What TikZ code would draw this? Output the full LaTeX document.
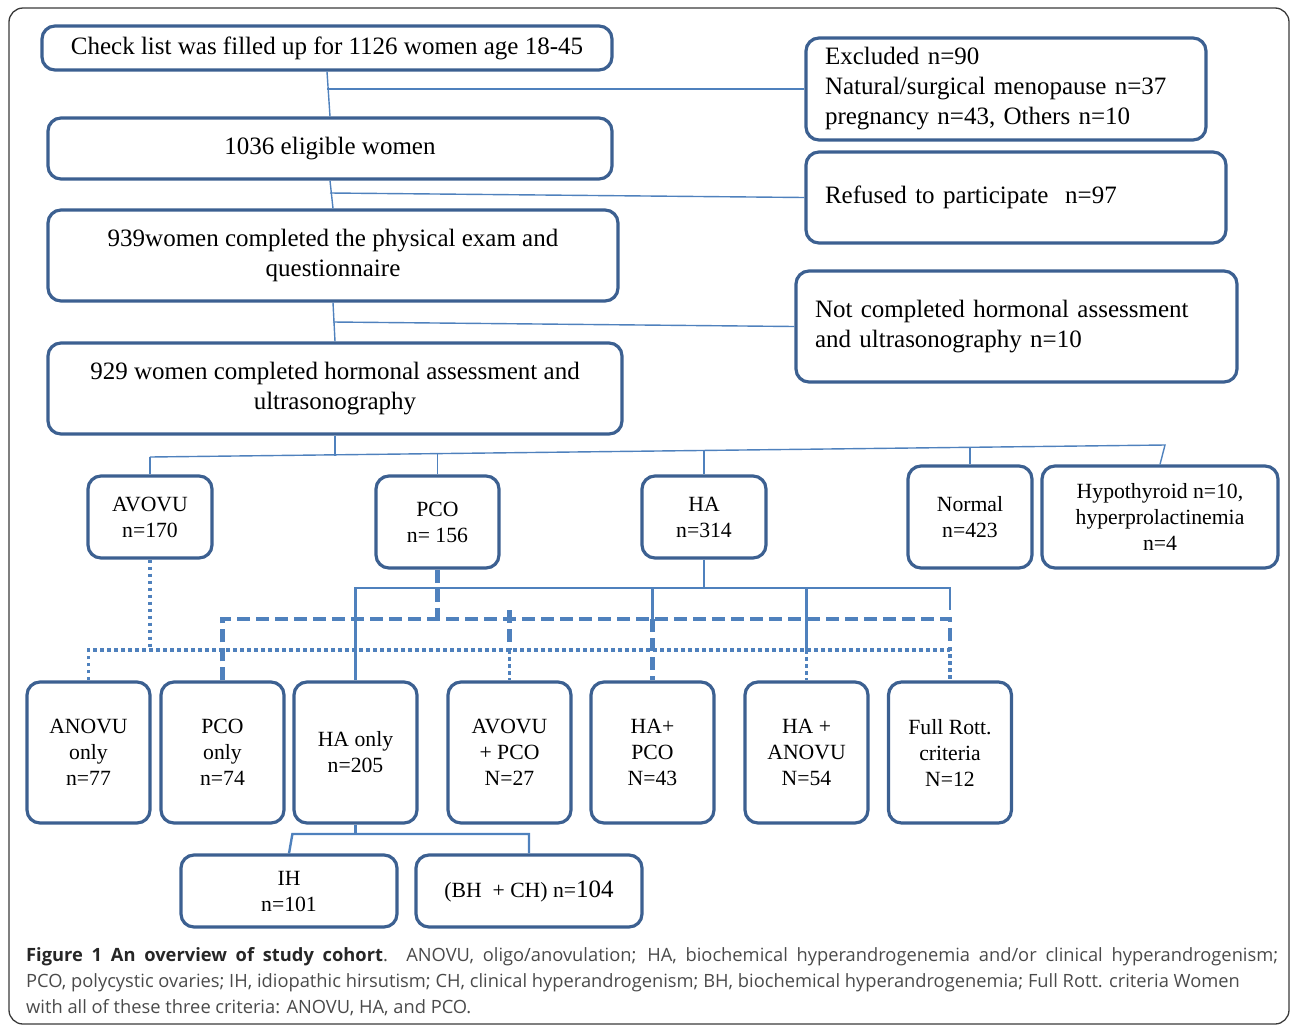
\documentclass[tikz,border=0pt]{standalone}
\usepackage{fontspec}
\setmainfont{Liberation Serif}
\newfontfamily\capfont{Open Sans}
\usetikzlibrary{calc}
\definecolor{boxblue}{HTML}{3C6091}
\definecolor{linkblue}{HTML}{4F81BD}
\definecolor{framegray}{HTML}{3A3A3A}
\definecolor{capgray}{HTML}{4A4A4A}

\begin{document}
\begin{tikzpicture}[
    x=1pt, y=-1pt,
    box/.style={draw=boxblue, line width=3.2pt, rounded corners=13pt, align=center, inner sep=2pt, font=\fontsize{21.7}{26}\selectfont},
    bigbox/.style={box, font=\fontsize{25}{30}\selectfont},
    sidebox/.style={bigbox, align=left, inner xsep=19pt},
    link/.style={draw=linkblue, line width=1.4pt},
    solidlink/.style={draw=linkblue, line width=2.4pt},
    dashlink/.style={draw=linkblue, line width=4.5pt, dash pattern=on 13pt off 6pt},
    dotlink/.style={draw=linkblue, line width=3.5pt, dash pattern=on 3.5pt off 3.5pt}
]
\useasboundingbox (0,0) rectangle (1290,1026);
\draw[framegray, line width=1.3pt, rounded corners=14pt] (9,8) rectangle (1289,1024);

\node[bigbox, minimum width=570pt, minimum height=44pt] (check) at (327,48) {Check list was filled up for 1126 women age 18-45};
\node[bigbox, minimum width=564pt, minimum height=61pt] (elig) at (330,148.5) {1036 eligible women};
\node[bigbox, minimum width=570pt, minimum height=91pt] (exam) at (333,255.5) {939women completed the physical exam and\\ questionnaire};
\node[bigbox, minimum width=574pt, minimum height=91pt] (assess) at (335,388.5) {929 women completed hormonal assessment and\\ ultrasonography};

\node[sidebox, text width=362pt, minimum height=102pt] (excl) at (1006,89) {Excluded n=90\\ Natural/surgical menopause n=37\\ pregnancy n=43, Others n=10};
\node[sidebox, text width=382pt, minimum height=91pt] (refused) at (1016,197.5) {Refused to participate\ \ n=97};
\node[sidebox, text width=403pt, minimum height=111pt] (notdone) at (1016.5,326.5) {Not completed hormonal assessment\\ and ultrasonography n=10};

\node[box, minimum width=124pt, minimum height=82pt] (avovu) at (150,517) {AVOVU\\ n=170};
\node[box, minimum width=123pt, minimum height=92pt] (pco) at (437.5,522) {PCO\\ n= 156};
\node[box, minimum width=124pt, minimum height=82pt] (ha) at (704,517) {HA\\ n=314};
\node[box, minimum width=124pt, minimum height=102pt] (normal) at (970,517) {Normal\\ n=423};
\node[box, minimum width=236pt, minimum height=102pt] (hypo) at (1160,517) {Hypothyroid n=10,\\ hyperprolactinemia\\ n=4};

\foreach \n/\x/\t in {anovu/88.5/{ANOVU\\ only\\ n=77}, pcoonly/222.5/{PCO\\ only\\ n=74}, haonly/355.5/{HA only\\ n=205}, avpco/509.5/{AVOVU\\ + PCO\\ N=27}, hapco/652.5/{HA+\\ PCO\\ N=43}, haanovu/806.5/{HA +\\ ANOVU\\ N=54}, fullrott/950/{Full Rott.\\ criteria\\ N=12}}
  \node[box, minimum width=123pt, minimum height=141pt] (\n) at (\x,752.5) {\t};

\node[box, minimum width=216pt, minimum height=72pt] (ih) at (289,891) {IH\\ n=101};
\node[box, minimum width=226pt, minimum height=72pt] (bhch) at (529,891) {(BH\ \ + CH) n={\fontsize{25}{30}\selectfont 104}};

\draw[link] (check.south) -- (elig.north);
\draw[link] (check.south |- 0,89) -- (excl.west);
\draw[link] (elig.south) -- (exam.north);
\draw[link] (elig.south |- 0,193) -- (refused.west);
\draw[link] (exam.south) -- (assess.north);
\draw[link] (exam.south |- 0,322) -- (notdone.west);

\coordinate (busend) at (1165,445);
\draw[link] (assess.south) -- (assess.south |- 0,456);
\draw[link] (avovu.north |- 0,457) -- (busend) -- (hypo.north);
\foreach \n/\y in {avovu/457, pco/453.6, ha/450.5, normal/447.3}
  \draw[link] (\n.north) -- (\n.north |- 0,\y);

\draw[solidlink] (ha.south) -- (ha.south |- 0,588);
\draw[solidlink] (haonly.north) -- (haonly.north |- 0,588) -- (fullrott.north |- 0,588) -- (fullrott.north |- 0,610);
\draw[solidlink] (hapco.north |- 0,588) -- (hapco.north |- 0,619);
\draw[solidlink] (haanovu.north |- 0,588) -- (haanovu.north |- 0,650);

\draw[dashlink] (pco.south) -- (pco.south |- 0,619);
\draw[dashlink] (pcoonly.north) -- (pcoonly.north |- 0,619) -- (fullrott.north |- 0,619) -- (fullrott.north |- 0,650);
\draw[dashlink] (hapco.north |- 0,619) -- (hapco.north);
\draw[dashlink] (avpco.north |- 0,610) -- (avpco.north |- 0,650);

\draw[dotlink] (avovu.south) -- (avovu.south |- 0,650);
\draw[dotlink] (anovu.north) -- (anovu.north |- 0,650) -- (fullrott.north |- 0,650) -- (fullrott.north);
\foreach \n in {avpco, haanovu}
  \draw[dotlink] (\n.north |- 0,650) -- (\n.north);

\draw[solidlink] (haonly.south) -- (haonly.south |- 0,834);
\draw[solidlink] (ih.north) -- (haonly.south west |- 0,834) -- (bhch.north |- 0,834) -- (bhch.north);

\node[anchor=north west, text width=1252pt, align=justify, inner sep=0pt, font=\capfont\fontsize{18.3}{26.3}\selectfont, text=capgray] (caption) at (26,947) {{\bfseries\color{black!85}Figure 1 An overview of study cohort}. ANOVU, oligo/anovulation; HA, biochemical hyperandrogenemia and/or clinical hyperandrogenism;\linebreak PCO, polycystic ovaries; IH, idiopathic hirsutism; CH, clinical hyperandrogenism; BH, biochemical hyperandrogenemia; Full Rott. criteria Women\\ with all of these three criteria: ANOVU, HA, and PCO.};
\end{tikzpicture}
\end{document}
